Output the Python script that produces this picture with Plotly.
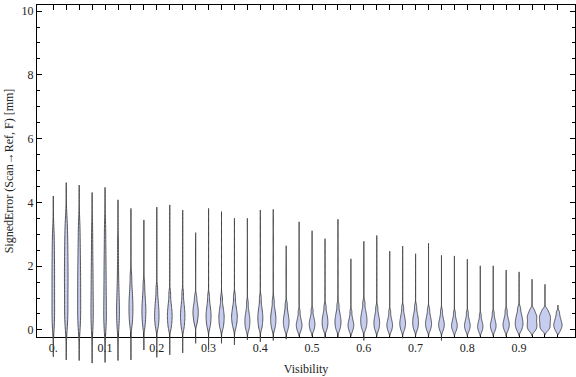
import plotly.graph_objects as go

# ---------------- data ----------------
visibility = [0.0, 0.025, 0.05, 0.075, 0.1, 0.125, 0.15, 0.175, 0.2, 0.225,
              0.25, 0.275, 0.3, 0.325, 0.35, 0.375, 0.4, 0.425, 0.45, 0.475,
              0.5, 0.525, 0.55, 0.575, 0.6, 0.625, 0.65, 0.675, 0.7, 0.725,
              0.75, 0.775, 0.8, 0.825, 0.85, 0.875, 0.9, 0.925, 0.95, 0.975]

err_min = [-0.84, -0.94, -0.96, -1.04, -1.02, -0.96, -0.94, -0.63, -0.86, -0.78,
           -0.72, -0.42, -0.62, -0.42, -0.47, -0.31, -0.37, -0.33, -0.29, -0.20,
           -0.20, -0.26, -0.22, -0.20, -0.33, -0.20, -0.20, -0.26, -0.20, -0.20,
           -0.33, -0.20, -0.20, -0.20, -0.20, -0.20, -0.18, -0.18, -0.15, -0.15]

err_max = [4.20, 4.62, 4.54, 4.31, 4.47, 4.08, 3.81, 3.45, 3.85, 3.92,
           3.76, 3.05, 3.81, 3.71, 3.50, 3.50, 3.76, 3.78, 2.64, 3.39,
           3.11, 2.86, 3.47, 2.23, 2.78, 2.96, 2.47, 2.63, 2.39, 2.72,
           2.34, 2.32, 2.22, 2.01, 2.01, 1.88, 1.82, 1.59, 1.43, 0.78]

# deciles p10 ... p90 of each distribution
err_deciles = [
    [0.15, 0.45, 0.80, 1.15, 1.50, 1.85, 2.20, 2.60, 3.05],
    [0.20, 0.55, 0.95, 1.35, 1.70, 2.05, 2.45, 2.85, 3.35],
    [0.15, 0.45, 0.80, 1.15, 1.50, 1.85, 2.25, 2.70, 3.25],
    [0.10, 0.35, 0.65, 0.95, 1.30, 1.65, 2.05, 2.55, 3.15],
    [0.10, 0.35, 0.65, 1.00, 1.35, 1.75, 2.15, 2.65, 3.25],
    [0.10, 0.30, 0.50, 0.70, 0.90, 1.15, 1.50, 2.00, 2.70],
    [0.15, 0.35, 0.50, 0.65, 0.80, 0.95, 1.12, 1.35, 1.70],
    [0.10, 0.28, 0.42, 0.55, 0.67, 0.80, 0.95, 1.15, 1.45],
    [0.08, 0.22, 0.34, 0.45, 0.56, 0.68, 0.82, 1.00, 1.30],
    [0.05, 0.18, 0.30, 0.40, 0.50, 0.60, 0.72, 0.88, 1.15],
    [0.05, 0.18, 0.30, 0.40, 0.50, 0.60, 0.72, 0.88, 1.15],
    [0.20, 0.32, 0.42, 0.50, 0.58, 0.66, 0.75, 0.87, 1.05],
    [0.08, 0.20, 0.30, 0.40, 0.48, 0.57, 0.68, 0.82, 1.05],
    [0.05, 0.16, 0.26, 0.35, 0.43, 0.52, 0.62, 0.76, 1.00],
    [0.08, 0.20, 0.30, 0.38, 0.46, 0.55, 0.65, 0.80, 1.05],
    [0.00, 0.10, 0.18, 0.26, 0.33, 0.41, 0.50, 0.63, 0.85],
    [0.05, 0.16, 0.26, 0.35, 0.43, 0.52, 0.62, 0.76, 1.00],
    [0.03, 0.14, 0.23, 0.31, 0.39, 0.47, 0.57, 0.70, 0.92],
    [0.00, 0.10, 0.18, 0.25, 0.32, 0.40, 0.49, 0.62, 0.82],
    [-0.05, 0.03, 0.09, 0.14, 0.19, 0.25, 0.32, 0.42, 0.58],
    [-0.03, 0.05, 0.11, 0.17, 0.22, 0.28, 0.35, 0.45, 0.62],
    [0.00, 0.09, 0.16, 0.23, 0.30, 0.37, 0.45, 0.56, 0.74],
    [0.00, 0.09, 0.17, 0.24, 0.31, 0.38, 0.47, 0.58, 0.78],
    [-0.05, 0.03, 0.09, 0.14, 0.19, 0.25, 0.32, 0.42, 0.58],
    [0.02, 0.12, 0.20, 0.28, 0.35, 0.43, 0.52, 0.64, 0.85],
    [-0.02, 0.07, 0.14, 0.21, 0.27, 0.34, 0.42, 0.53, 0.70],
    [-0.05, 0.03, 0.09, 0.14, 0.19, 0.25, 0.32, 0.42, 0.58],
    [-0.02, 0.07, 0.14, 0.20, 0.26, 0.33, 0.41, 0.52, 0.70],
    [0.00, 0.09, 0.16, 0.23, 0.30, 0.37, 0.45, 0.56, 0.74],
    [-0.02, 0.07, 0.13, 0.19, 0.25, 0.31, 0.39, 0.49, 0.65],
    [-0.03, 0.05, 0.11, 0.16, 0.21, 0.27, 0.34, 0.44, 0.60],
    [-0.05, 0.03, 0.08, 0.13, 0.18, 0.23, 0.30, 0.39, 0.54],
    [-0.05, 0.03, 0.08, 0.13, 0.18, 0.23, 0.30, 0.39, 0.54],
    [-0.07, 0.00, 0.05, 0.10, 0.14, 0.19, 0.25, 0.33, 0.47],
    [-0.05, 0.03, 0.08, 0.13, 0.18, 0.23, 0.30, 0.39, 0.54],
    [-0.03, 0.05, 0.11, 0.16, 0.21, 0.27, 0.34, 0.44, 0.60],
    [-0.02, 0.07, 0.14, 0.20, 0.27, 0.34, 0.42, 0.52, 0.68],
    [-0.02, 0.06, 0.13, 0.20, 0.28, 0.36, 0.43, 0.50, 0.62],
    [0.00, 0.08, 0.15, 0.23, 0.30, 0.37, 0.44, 0.51, 0.62],
    [-0.04, 0.04, 0.10, 0.15, 0.20, 0.26, 0.33, 0.42, 0.55],
]

x_tick_vals = [0.0, 0.1, 0.2, 0.3, 0.4, 0.5, 0.6, 0.7, 0.8, 0.9]
x_tick_text = ["0.", "0.1", "0.2", "0.3", "0.4", "0.5", "0.6", "0.7", "0.8", "0.9"]
y_tick_vals = [0, 2, 4, 6, 8, 10]
y_tick_text = ["0", "2", "4", "6", "8", "10"]
y_minor_vals = [0.5, 1, 1.5, 2.5, 3, 3.5, 4.5, 5, 5.5, 6.5, 7, 7.5, 8.5, 9, 9.5]

# ---------------- style ----------------
violin_px = [3.6, 4.6, 4.0, 3.3, 3.6, 3.8, 4.9, 4.9, 5.4, 5.7,
             5.4, 6.3, 6.0, 6.3, 6.7, 6.0, 6.0, 6.3, 6.7, 6.7,
             6.7, 6.7, 7.0, 6.7, 7.3, 6.7, 6.7, 6.7, 6.7, 7.0,
             6.7, 6.7, 6.7, 6.3, 6.7, 7.3, 8.7, 10.7, 12.0, 9.3]

W, H = 576, 377
ML, MR, MT, MB = 37, 1, 5, 12
FRAME_BOTTOM_PX = 337
X_RANGE = [-0.0315, 1.008]
Y_TOP = 10.19
Y_LOW_FULL = -1.1

plot_w = W - ML - MR
plot_h = H - MT - MB
px_per_x = plot_w / (X_RANGE[1] - X_RANGE[0])
d0 = (H - MB - FRAME_BOTTOM_PX) / plot_h
y_low_frame = Y_TOP - (1 - d0) * (Y_TOP - Y_LOW_FULL)

FONT = "Liberation Serif, Times New Roman, serif"
FILL = "#c6cdf0"
EDGE = "rgba(60,60,60,0.85)"

fig = go.Figure()
# empty trace so that the framed x/y subplot (axes, ticks, titles) is drawn
fig.add_trace(go.Scatter(x=[], y=[], xaxis="x", yaxis="y", mode="markers",
                         showlegend=False, hoverinfo="skip"))
for i, pos in enumerate(visibility):
    vals = err_deciles[i]
    bw = 0.9 * (vals[-1] - vals[0]) / 8
    fig.add_trace(go.Violin(
        x=[pos] * len(vals), y=vals,
        xaxis="x", yaxis="y2",
        orientation="v",
        spanmode="manual", span=[err_min[i], err_max[i]],
        bandwidth=bw,
        scalemode="width", scalegroup="g%d" % i,
        width=(violin_px[i] - 1) / px_per_x,
        fillcolor=FILL, line=dict(color=EDGE, width=1),
        points=False, box_visible=False, meanline_visible=False,
        hoverinfo="skip", showlegend=False,
    ))

fig.update_layout(
    width=W, height=H,
    margin=dict(l=ML, r=MR, t=MT, b=MB, pad=0, autoexpand=False),
    paper_bgcolor="white", plot_bgcolor="rgba(0,0,0,0)",
    violinmode="overlay",
    font=dict(family=FONT, size=12, color="#222"),
    xaxis=dict(
        range=X_RANGE, anchor="y", automargin=False,
        showline=True, linecolor="black", linewidth=1, mirror="ticks",
        showgrid=False, zeroline=False,
        ticks="inside", ticklen=5, tickcolor="black", tickwidth=1,
        tickmode="array", tickvals=x_tick_vals, ticktext=x_tick_text,
        minor=dict(tickmode="array", tickvals=visibility, ticks="inside",
                   ticklen=5, tickcolor="black", showgrid=False),
        tickfont=dict(family=FONT, size=12, color="#222"),
        title=dict(text="Visibility", font=dict(family=FONT, size=12, color="#222"),
                   standoff=10),
    ),
    yaxis=dict(
        domain=[d0, 1], range=[y_low_frame, Y_TOP], anchor="x", automargin=False,
        showline=True, linecolor="black", linewidth=1, mirror="ticks",
        showgrid=False, zeroline=False,
        ticks="inside", ticklen=5, tickcolor="black", tickwidth=1,
        tickmode="array", tickvals=y_tick_vals, ticktext=y_tick_text,
        minor=dict(tickmode="array", tickvals=y_minor_vals, ticks="inside",
                   ticklen=3, tickcolor="black", showgrid=False),
        tickfont=dict(family=FONT, size=12, color="#222"),
        title=dict(text="SignedError (Scan\u2192Ref, F) [mm]",
                   font=dict(family=FONT, size=12, color="#222"), standoff=5),
    ),
    yaxis2=dict(
        domain=[0, 1], range=[Y_LOW_FULL, Y_TOP], anchor="x", automargin=False,
        visible=False, showgrid=False, zeroline=False,
    ),
)

fig.write_html("out.html", config={"displayModeBar": False},
               post_script="document.body.style.margin='0';")
